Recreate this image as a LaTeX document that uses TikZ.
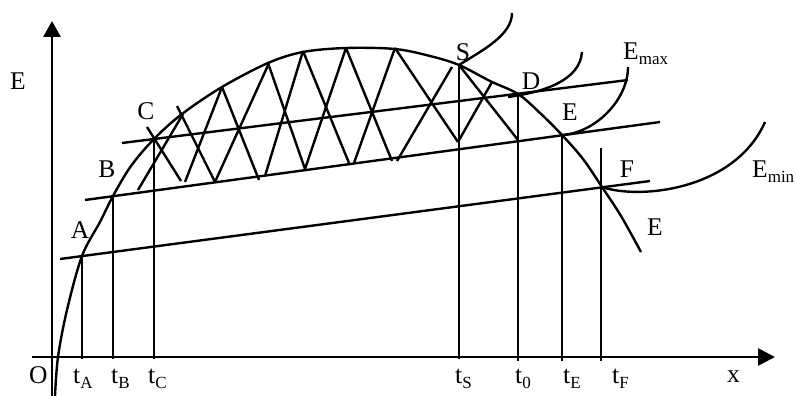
\documentclass[tikz,border=0pt]{standalone}
\usepackage{fontspec}
\setmainfont{Liberation Serif}
\usetikzlibrary{arrows.meta}
\newcommand{\sbx}[1]{\raisebox{-5pt}{\fontsize{17}{17}\selectfont #1}}
\begin{document}
\begin{tikzpicture}[x=1pt,y=-1pt, line join=round,
  curve/.style={line width=2.4pt},
  axis/.style={line width=2.7pt},
  lbl/.style={font=\fontsize{25.5}{25.5}\selectfont, inner sep=0pt},
  lblw/.style={font=\fontsize{25.5}{25.5}\selectfont, inner sep=0pt, anchor=base west}]
\useasboundingbox (0,0) rectangle (796,396);
% axes
\coordinate (xs) at (32,357); \coordinate (xe) at (775,357);
\coordinate (ys) at (52,396); \coordinate (ye) at (52,21);
\draw[axis,-{Triangle[length=17pt,width=17pt]}] (xs) -- (xe);
\draw[axis,-{Triangle[length=16pt,width=17pt]}] (ys) -- (ye);
% key points
\coordinate (A) at (82,256);
\coordinate (B) at (113,196);
\coordinate (C) at (154,139);
\coordinate (S) at (459,65);
\coordinate (D) at (518,94);
\coordinate (E) at (562,135);
\coordinate (F) at (602,187);
% main curve E
\draw[curve] plot[smooth,tension=0.55] coordinates {(55,396) (58,357) (67,310) (A) (100,222) (B) (131,166) (C) (182,114) (222,87) (268,63) (303,52) (346,48) (395,49) (430,56) (S) (490,81) (D) (540,113) (E) (583,159) (F) (621,216) (641,252)};
% straight lines
\coordinate (l1a) at (60,259); \coordinate (l1b) at (650,181);
\coordinate (l2a) at (85,200); \coordinate (l2b) at (660,122);
\coordinate (l3a) at (122,143); \coordinate (l3b) at (628,80);
\draw[curve] (l1a) -- (l1b);
\draw[curve] (l2a) -- (l2b);
\draw[curve] (l3a) -- (l3b);
% verticals
\coordinate (tA) at (82,359); \coordinate (tB) at (113,359); \coordinate (tC) at (154,359);
\coordinate (tS) at (459,359); \coordinate (t0) at (518,361); \coordinate (tE) at (562,361);
\coordinate (tFb) at (601,361); \coordinate (tFt) at (601,148);
\draw[curve] (A) -- (tA);
\draw[curve] (B) -- (tB);
\draw[curve] (C) -- (tC);
\draw[curve] (S) -- (tS);
\draw[curve] (D) -- (t0);
\draw[curve] (E) -- (tE);
\draw[curve] (tFt) -- (tFb);
% zigzag
\draw[curve] (147,127) -- (181,181);
\draw[curve] (138,190) -- (183,114);
\draw[curve] (177,106) -- (215,182);
\draw[curve] (185,182) -- (222,87);
\draw[curve] (222,87) -- (259,180);
\draw[curve] (269,63) -- (215,182);
\draw[curve] (268,63) -- (305,169);
\draw[curve] (303,51) -- (265,176);
\draw[curve] (303,51) -- (349,163);
\draw[curve] (346,48) -- (305,169);
\draw[curve] (346,48) -- (392,161);
\draw[curve] (395,48) -- (354,163);
\draw[curve] (395,48) -- (458,142);
\draw[curve] (452,67) -- (397,161);
\draw[curve] (S) -- (518,140);
\draw[curve] (458,142) -- (492,82);
% side curves
\coordinate (Stop) at (512,13);
\coordinate (Dtop) at (582,52);
\coordinate (Emaxe) at (628,67);
\coordinate (Emine) at (765,122);
\coordinate (Dst) at (508,97);
\draw[curve] (S) .. controls (483,50) and (512,35) .. (Stop);
\draw[curve] (Dst) .. controls (545,92) and (580,80) .. (Dtop);
\draw[curve] (E) .. controls (595,133) and (628,100) .. (Emaxe);
\draw[curve] (F) .. controls (640,200) and (735,190) .. (Emine);
% labels
\node[lbl] (lE) at (18,81) {E};
\node[lblw] (lO) at (29,383) {O};
\node[lblw] (ltA) at (73,383) {t\sbx{A}};
\node[lblw] (ltB) at (111,383) {t\sbx{B}};
\node[lblw] (ltC) at (148,383) {t\sbx{C}};
\node[lblw] (ltS) at (455,383) {t\sbx{S}};
\node[lblw] (lt0) at (515,383) {t\sbx{0}};
\node[lblw] (ltE) at (563,383) {t\sbx{E}};
\node[lblw] (ltF) at (612,383) {t\sbx{F}};
\node[lblw] (lx) at (727,382) {x};
\node[lbl] (pA) at (80,230) {A};
\node[lbl] (pB) at (107,169) {B};
\node[lbl] (pC) at (146,111) {C};
\node[lbl] (pS) at (463,52) {S};
\node[lbl] (pD) at (531,81) {D};
\node[lbl] (pE) at (570,112) {E};
\node[lbl] (pF) at (627,169) {F};
\node[lbl] (pEc) at (655,227) {E};
\node[lblw] (lEmax) at (623,60) {E\sbx{max}};
\node[lblw] (lEmin) at (752,177) {E\sbx{min}};
\end{tikzpicture}
\end{document}
